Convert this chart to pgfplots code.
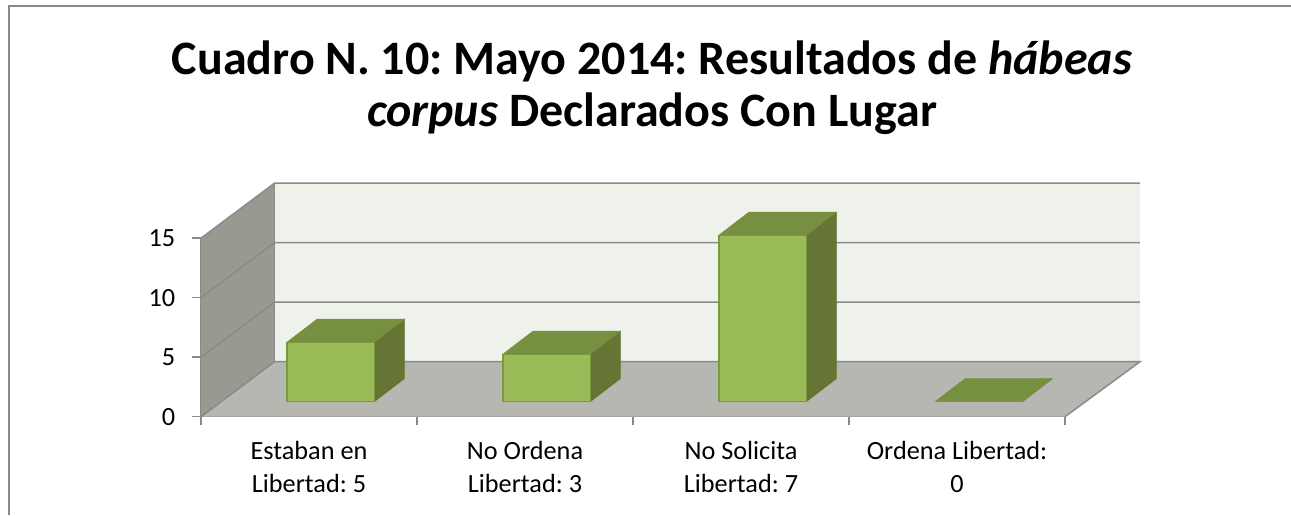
\documentclass[border=0pt]{standalone}
\usepackage{pgfplots}
\pgfplotsset{compat=1.18}
\usepackage{fontspec}
\setmainfont{Carlito}
\frenchspacing

\definecolor{wallback}{HTML}{EFF2EB}
\definecolor{wallside}{HTML}{989A92}
\definecolor{floorc}{HTML}{B5B7B0}
\definecolor{gridc}{HTML}{8A8A8A}
\definecolor{barfront}{HTML}{9BBB59}
\definecolor{barside}{HTML}{647534}
\definecolor{bartop}{HTML}{768F41}
\definecolor{baredge}{HTML}{7A9A42}

\newlength{\px}
\setlength{\px}{0.75pt}

% depth faces of a bar: centre, value
\newcommand{\barfaces}[2]{
  \pgfmathsetmacro{\xl}{#1-0.202}
  \pgfmathsetmacro{\xr}{#1+0.202}
  \pgfmathsetmacro{\xlb}{#1-0.202+0.139}
  \pgfmathsetmacro{\xrb}{#1+0.202+0.139}
  \pgfmathsetmacro{\yb}{#2+1.93}
  \addplot[fill=barside,draw=barside] coordinates {(\xr,0) (\xrb,1.93) (\xrb,\yb) (\xr,#2)} -- cycle;
  \addplot[fill=bartop,draw=bartop] coordinates {(\xl,#2) (\xr,#2) (\xrb,\yb) (\xlb,\yb)} -- cycle;
}

\begin{document}
\begin{tikzpicture}[x=\px,y=\px]
  \useasboundingbox (0,0) rectangle (1291,515);
  \fill[white] (0,0) rectangle (1291,515);
  \draw[gridc,line width=1.5\px] (9,0) -- (9,509) -- (1291,509);
  \node[align=center,font=\fontsize{36}{39}\selectfont\bfseries] at (652,427)
    {Cuadro N. 10: Mayo 2014: Resultados de \textit{hábeas}\\\textit{corpus} Declarados Con Lugar};

  \begin{axis}[
    at={(201\px,98.3\px)},
    anchor=origin,
    x=216\px,
    y=11.9\px,
    xmin=0,xmax=4,
    ymin=0,ymax=15,
    clip=false,
    axis x line*=bottom,
    axis y line*=left,
    axis line style={draw=gridc,line width=1.5\px,-},
    every tick/.style={draw=gridc,line width=1.5\px},
    tick align=outside,
    major tick length=9\px,
    minor tick length=8\px,
    ytick={0,5,10,15},
    xtick={0.5,1.5,2.5,3.5},
    minor xtick={0,1,2,3,4},
    major x tick style={draw=none},
    xticklabels={{Estaban en\\Libertad: 5},{No Ordena\\Libertad: 3},{No Solicita\\Libertad: 7},{Ordena Libertad:\\0}},
    xticklabel style={align=center,font=\fontsize{19.7}{25}\selectfont,yshift=-11\px},
    yticklabel style={font=\fontsize{19.7}{23}\selectfont,xshift=-12\px},
    /pgf/number format/assume math mode=true,
    ]
    % walls
    \addplot[fill=wallback,draw=none] coordinates {(0.34,4.62) (4.347,4.62) (4.347,19.62) (0.34,19.62)} -- cycle;
    \addplot[fill=floorc,draw=none] coordinates {(0,0) (4,0) (4.347,4.62) (0.34,4.62)} -- cycle;
    \addplot[fill=wallside,draw=none] coordinates {(0,0) (0.34,4.62) (0.34,19.62) (0,15)} -- cycle;
    % grid on the back wall and on the side wall
    \addplot[gridc,line width=1.5\px] coordinates {(0,0) (0.34,4.62) (4.347,4.62) (4,0)};
    \addplot[gridc,line width=1.5\px] coordinates {(0,5) (0.34,9.62) (4.347,9.62)};
    \addplot[gridc,line width=1.5\px] coordinates {(0,10) (0.34,14.62) (4.347,14.62)};
    \addplot[gridc,line width=1.5\px] coordinates {(0,15) (0.34,19.62) (4.347,19.62)};
    \addplot[gridc,line width=1.5\px] coordinates {(0.34,4.62) (0.34,19.62)};
  \end{axis}

  \begin{axis}[
    at={(222.6\px,113.3\px)},
    anchor=origin,
    x=216\px,
    y=11.9\px,
    xmin=0,xmax=4,
    ymin=0,ymax=15,
    clip=false,
    axis lines=none,
    ]
    \barfaces{0.5}{5}
    \barfaces{1.5}{4}
    \barfaces{2.5}{14}
    \barfaces{3.5}{0}
    \addplot[ybar,bar width=0.404,fill=barfront,draw=baredge,line width=1.2\px] coordinates {(0.5,5) (1.5,4) (2.5,14) (3.5,0)};
  \end{axis}
\end{tikzpicture}
\end{document}
